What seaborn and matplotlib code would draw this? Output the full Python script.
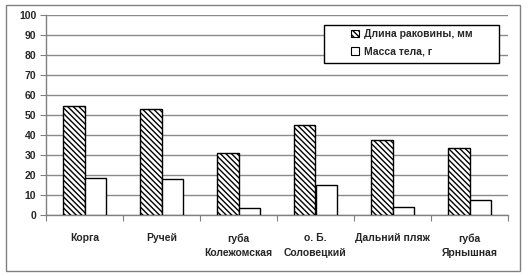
import matplotlib
matplotlib.use("Agg")
import matplotlib.pyplot as plt
import seaborn as sns
import pandas as pd
from matplotlib.patches import Patch, Rectangle

categories = ["Корга", "Ручей", "губа\nКолежомская", "о. Б.\nСоловецкий", "Дальний пляж", "губа\nЯрнышная"]
shell_length = [54.3, 53.0, 30.9, 45.0, 37.4, 33.4]
body_mass = [18.8, 18.0, 3.5, 15.0, 4.0, 7.5]
series_names = ["Длина раковины, мм", "Масса тела, г"]
yticks = [0, 10, 20, 30, 40, 50, 60, 70, 80, 90, 100]

df = pd.DataFrame({
    "cat": categories * 2,
    "val": shell_length + body_mass,
    "series": [series_names[0]] * len(categories) + [series_names[1]] * len(categories),
})

sns.set_theme(style="white")
plt.rcParams["font.family"] = ["Liberation Sans", "DejaVu Sans"]
plt.rcParams["hatch.linewidth"] = 1.0

W, H = 529, 276
fig = plt.figure(figsize=(5.29, 2.76), dpi=100)
ax_l, ax_r, ax_t, ax_b = 46, 508, 14.7, 215.3
ax = fig.add_axes([ax_l / W, 1 - ax_b / H, (ax_r - ax_l) / W, (ax_b - ax_t) / H])

sns.barplot(data=df, x="cat", y="val", hue="series", order=categories,
            hue_order=series_names, palette=["white", "white"], width=0.57,
            edgecolor="black", linewidth=1.0, ax=ax, legend=False)

n = len(categories)
for i, p in enumerate(ax.patches[:2 * n]):
    if i < n:
        p.set_hatch("\\\\\\\\\\\\")
    p.set_zorder(3)

ax.set_ylim(0, 100)
ax.set_xlim(-0.5, n - 0.5)
ax.set_yticks(yticks)
ax.set_yticklabels([str(t) for t in yticks], fontsize=7.5, fontweight="bold")
ax.set_xticks(range(n))
ax.set_xticklabels(categories, fontsize=7.5, fontweight="bold", linespacing=1.55, va="top")
ax.set_xticks([i - 0.5 for i in range(n + 1)], minor=True)
ax.tick_params(axis="x", which="major", length=0, pad=13)
ax.tick_params(axis="x", which="minor", length=4, width=0.8, color="#808080", bottom=True)
ax.tick_params(axis="y", length=4, width=0.8, color="#808080", left=True, pad=3)
ax.set_xlabel("")
ax.set_ylabel("")
ax.yaxis.grid(True, color="#8a8a8a", linewidth=1.0, zorder=0)
ax.set_axisbelow(True)
for s in ["top", "right"]:
    ax.spines[s].set_visible(False)
for s in ["left", "bottom"]:
    ax.spines[s].set_color("#808080")
    ax.spines[s].set_linewidth(1.0)

# legend box (pixel coords of reference)
lx0, lx1, ly0, ly1 = 324, 499, 24.5, 63
fig.patches.append(Rectangle((lx0 / W, 1 - ly1 / H), (lx1 - lx0) / W, (ly1 - ly0) / H,
                             transform=fig.transFigure, facecolor="white", edgecolor="black",
                             linewidth=1.0, zorder=10))
handles = [Patch(facecolor="white", edgecolor="black", hatch="\\\\\\\\\\\\", linewidth=0.8),
           Patch(facecolor="white", edgecolor="black", linewidth=0.8)]
leg = fig.legend(handles, series_names, loc="upper left",
                 bbox_to_anchor=(348 / W, 1 - 26 / H),
                 frameon=False, prop={"weight": "bold", "size": 7.5},
                 handlelength=0.8, handleheight=0.8, handletextpad=0.4,
                 borderpad=0.3, labelspacing=0.75, borderaxespad=0)
leg.set_zorder(11)

fig.patches.append(Rectangle((5.5 / W, 1 - 270.5 / H), (520 - 5.5) / W, (270.5 - 5) / H,
                             transform=fig.transFigure, fill=False, edgecolor="#808080",
                             linewidth=1.0))

fig.savefig("out.png", dpi=100)
